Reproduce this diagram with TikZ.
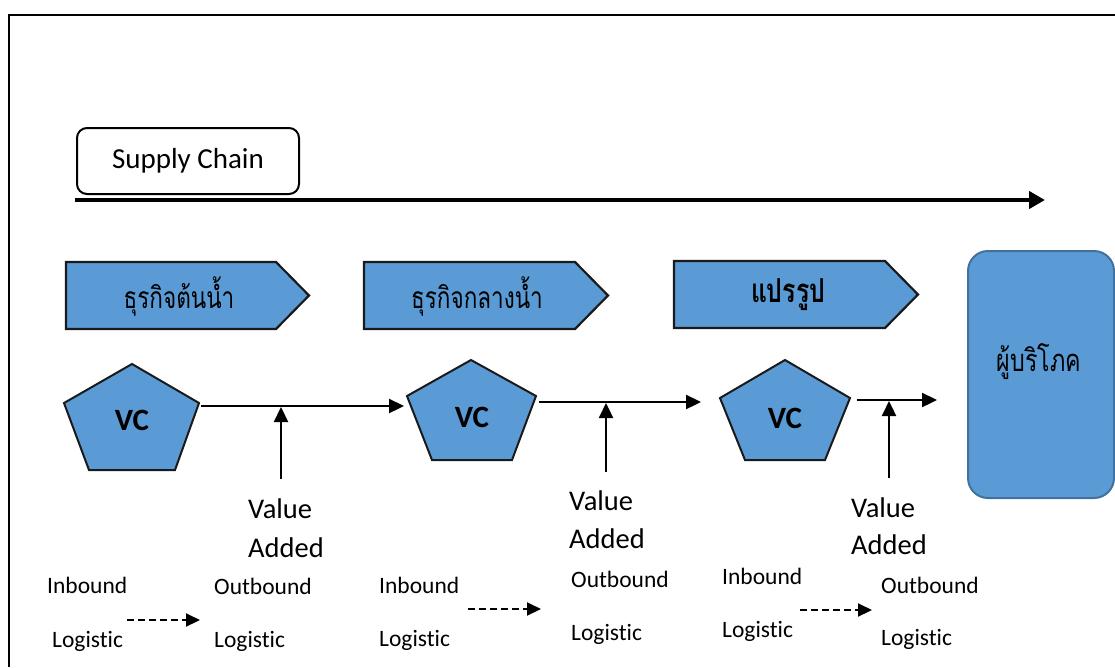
\documentclass[tikz,border=0pt]{standalone}
\usepackage{fontspec}
\setmainfont{Carlito}[Ligatures=NoCommon]
\newfontfamily\thaifont[Script=Thai, FakeStretch=0.75]{Loma}
\usetikzlibrary{arrows.meta}
\definecolor{boxblue}{HTML}{5B9BD5}
\definecolor{edgeblue}{HTML}{41719C}
\definecolor{inkline}{HTML}{1A1A1A}

\begin{document}
\begin{tikzpicture}[x=1pt,y=-1pt,
  frame/.style={line width=2pt, draw=black},
  chev/.style={fill=boxblue, draw=inkline, line width=2.2pt, line join=miter},
  pent/.style={fill=boxblue, draw=inkline, line width=2pt, line join=miter},
  flow/.style={line width=2.3pt, -{Triangle[length=15pt,width=14pt]}},
  dashflow/.style={line width=2pt, dash pattern=on 7pt off 4pt, -{Triangle[length=14pt,width=13pt]}},
  bigtext/.style={font=\fontsize{28.5}{30}\selectfont, anchor=base west, inner sep=0pt},
  smalltext/.style={font=\fontsize{23.5}{25}\selectfont, anchor=base west, inner sep=0pt},
  vclabel/.style={font=\fontsize{31}{31}\selectfont\bfseries, inner sep=0pt},
  thailabel/.style={font=\thaifont\fontsize{30}{32}\selectfont, inner sep=0pt},
]
\useasboundingbox (0,0) rectangle (1115,667);

% page frame (top and left edges)
\draw[frame] (9,667) -- (9,15) -- (1115,15);

% supply chain heading and long arrow
\node[draw, line width=2pt, rounded corners=10pt, minimum width=222pt,
      minimum height=66pt, inner sep=0pt, font=\fontsize{29}{30}\selectfont]
      (sc) at (188,161) {Supply Chain};
\coordinate (scstart) at (75,200);
\coordinate (scend) at (1045,200);
\draw[line width=4pt, -{Triangle[length=16pt,width=17pt]}] (scstart) -- (scend);

% stage chevrons
\draw[chev] (66,262) -- (276,262) -- (309,295.5) -- (276,329) -- (66,329) -- cycle;
\node[thailabel] (up) at (179,297) {ธุรกิจต้นน้ำ};
\draw[chev] (364,262) -- (575,262) -- (608,295.5) -- (575,329) -- (364,329) -- cycle;
\node[thailabel] (mid) at (477,297) {ธุรกิจกลางน้ำ};
\draw[chev] (674,261) -- (885,261) -- (918,294.5) -- (885,328) -- (674,328) -- cycle;
\node[thailabel, font=\thaifont\bfseries\fontsize{33}{34}\selectfont] (proc) at (788,295) {แปรรูป};

% consumer box
\node[draw=edgeblue, fill=boxblue, line width=2pt, rounded corners=20pt,
      minimum width=146pt, minimum height=247pt, inner sep=0pt] (cons) at (1041,374.5) {};
\node[thailabel, font=\thaifont\fontsize{31}{32}\selectfont] (consl) at (1039,362) {ผู้บริโภค};

% value chain pentagons
\draw[pent] (132,364) -- (199,403) -- (175,470) -- (89,470) -- (64,403) -- cycle;
\node[vclabel] (vc1) at (132,420) {VC};
\draw[pent] (471,360) -- (536,396) -- (512,460) -- (432,460) -- (407,396) -- cycle;
\node[vclabel] (vc2) at (472,417) {VC};
\draw[pent] (785,360) -- (850,398) -- (825,460) -- (745,460) -- (720,398) -- cycle;
\node[vclabel] (vc3) at (785,418) {VC};

% flow between the stages
\coordinate (vc1out) at (201,406);
\coordinate (vc2in) at (404,406);
\coordinate (vc2out) at (539,402);
\coordinate (vc3in) at (701,402);
\coordinate (vc3out) at (857,400);
\coordinate (consin) at (937,400);
\draw[flow] (vc1out) -- (vc2in);
\draw[flow] (vc2out) -- (vc3in);
\draw[flow] (vc3out) -- (consin);

% value added inputs
\coordinate (va1b) at (281,479);
\coordinate (va1t) at (281,407);
\coordinate (va2b) at (606,472);
\coordinate (va2t) at (606,403);
\coordinate (va3b) at (889,478);
\coordinate (va3t) at (889,401);
\draw[flow] (va1b) -- (va1t);
\draw[flow] (va2b) -- (va2t);
\draw[flow] (va3b) -- (va3t);

\node[bigtext] (va1v) at (248,518) {Value};
\node[bigtext] (va1a) at (248,557) {Added};
\node[bigtext] (va2v) at (569,510) {Value};
\node[bigtext] (va2a) at (569,548) {Added};
\node[bigtext] (va3v) at (851,517) {Value};
\node[bigtext] (va3a) at (851,554) {Added};

% logistics
\node[smalltext] (in1) at (47,593) {Inbound};
\node[smalltext] (in1l) at (52,647) {Logistic};
\node[smalltext] (out1) at (214,594) {Outbound};
\node[smalltext] (out1l) at (214,647) {Logistic};
\node[smalltext] (in2) at (379,593) {Inbound};
\node[smalltext] (in2l) at (379,646) {Logistic};
\node[smalltext] (out2) at (571,587) {Outbound};
\node[smalltext] (out2l) at (571,640) {Logistic};
\node[smalltext] (in3) at (722,584) {Inbound};
\node[smalltext] (in3l) at (722,637) {Logistic};
\node[smalltext] (out3) at (881,593) {Outbound};
\node[smalltext] (out3l) at (881,645) {Logistic};

\coordinate (lg1s) at (127,620);
\coordinate (lg1e) at (200,620);
\coordinate (lg2s) at (468,609);
\coordinate (lg2e) at (541,609);
\coordinate (lg3s) at (800,610);
\coordinate (lg3e) at (872,610);
\draw[dashflow] (lg1s) -- (lg1e);
\draw[dashflow] (lg2s) -- (lg2e);
\draw[dashflow] (lg3s) -- (lg3e);
\end{tikzpicture}
\end{document}
